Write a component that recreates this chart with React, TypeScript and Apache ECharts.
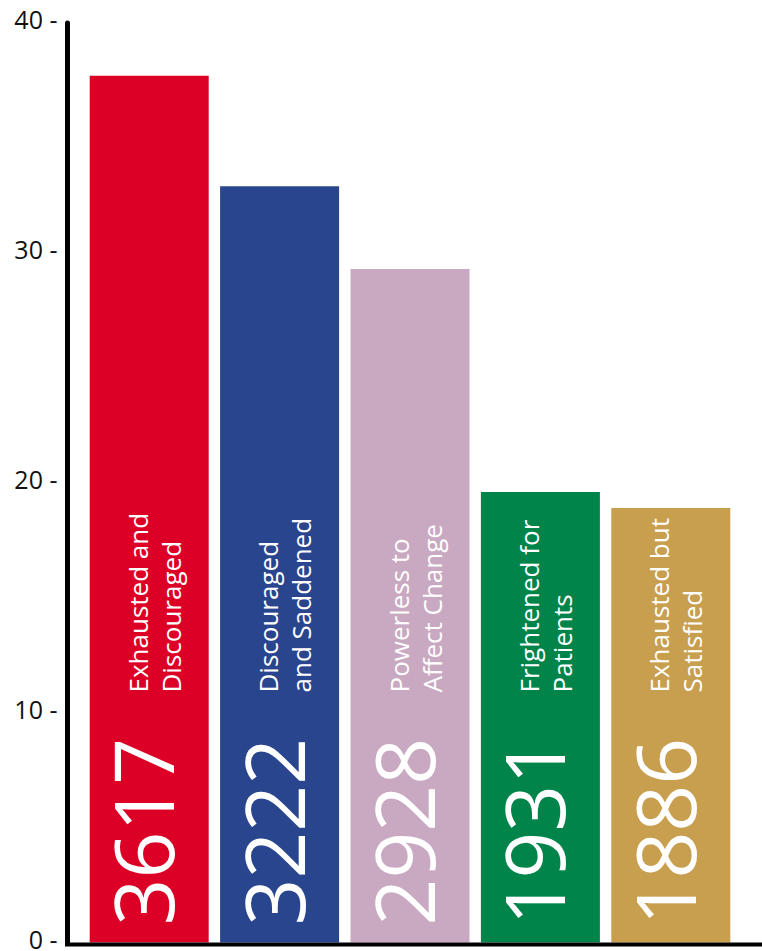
import React, { useEffect, useRef } from "react";
import * as echarts from "echarts";

const categories = [
  "Exhausted and\nDiscouraged",
  "Discouraged\nand Saddened",
  "Powerless to\nAffect Change",
  "Frightened for\nPatients",
  "Exhausted but\nSatisfied",
];
const percentages = [37.7, 32.9, 29.3, 19.6, 18.9];
const counts = [3617, 3222, 2928, 1931, 1886];
const colors = ["#DC0026", "#29458E", "#C9A9C1", "#00844A", "#C89E4F"];
const yMin = 0;
const yMax = 40;
const yStep = 10;

export default function App() {
  const ref = useRef<HTMLDivElement>(null);
  useEffect(() => {
    const chart = echarts.init(ref.current!, null, { renderer: "svg" });
    const option: any = {
      animation: false,
      grid: { left: 84, right: 26, top: 23, bottom: 5 },
      xAxis: {
        type: "category",
        data: categories,
        axisLine: { show: false },
        axisTick: { show: false },
        axisLabel: { show: false },
        splitLine: { show: false },
      },
      yAxis: {
        type: "value",
        min: yMin,
        max: yMax,
        interval: yStep,
        offset: 16.5,
        axisLine: { show: true, lineStyle: { color: "#000", width: 5 } },
        axisTick: { show: false },
        splitLine: { show: false },
        axisLabel: {
          formatter: (v: number) => `${v} -`,
          fontSize: 25,
          color: "#111",
          fontFamily: "Open Sans",
          margin: 10,
          verticalAlign: "bottom",
          lineHeight: 8,
        },
      },
      series: [
        {
          type: "bar",
          data: percentages.map((v, i) => ({ value: v, itemStyle: { color: colors[i] } })),
          barWidth: 119,
          label: {
            show: true,
            position: "insideBottom",
            distance: 17,
            rotate: 90,
            align: "left",
            verticalAlign: "middle",
            offset: [0, -7],
            formatter: (p: any) => String(counts[p.dataIndex]),
            fontSize: 82,
            color: "#fff",
            fontFamily: "Open Sans",
          },
        },
        {
          type: "bar",
          data: percentages,
          barWidth: 119,
          barGap: "-100%",
          itemStyle: { color: "rgba(0,0,0,0)" },
          label: {
            show: true,
            position: "insideBottom",
            distance: 250,
            rotate: 90,
            align: "left",
            verticalAlign: "middle",
            offset: [0, 5],
            formatter: (p: any) => categories[p.dataIndex],
            fontSize: 26,
            lineHeight: 33,
            color: "#fff",
            fontFamily: "Open Sans",
          },
        },
      ],
    };
    chart.setOption(option);
    const y0 = chart.convertToPixel({ yAxisIndex: 0 }, yMin) as number;
    chart.setOption({
      graphic: [
        {
          type: "line",
          shape: { x1: 65, y1: y0 + 2, x2: 762, y2: y0 + 2 },
          style: { stroke: "#000", lineWidth: 4 },
          z: 10,
        },
      ],
    });
    return () => chart.dispose();
  }, []);
  return (
    <div
      ref={ref}
      style={{ position: "absolute", left: 0, top: 0, width: 762, height: 951 }}
    />
  );
}
